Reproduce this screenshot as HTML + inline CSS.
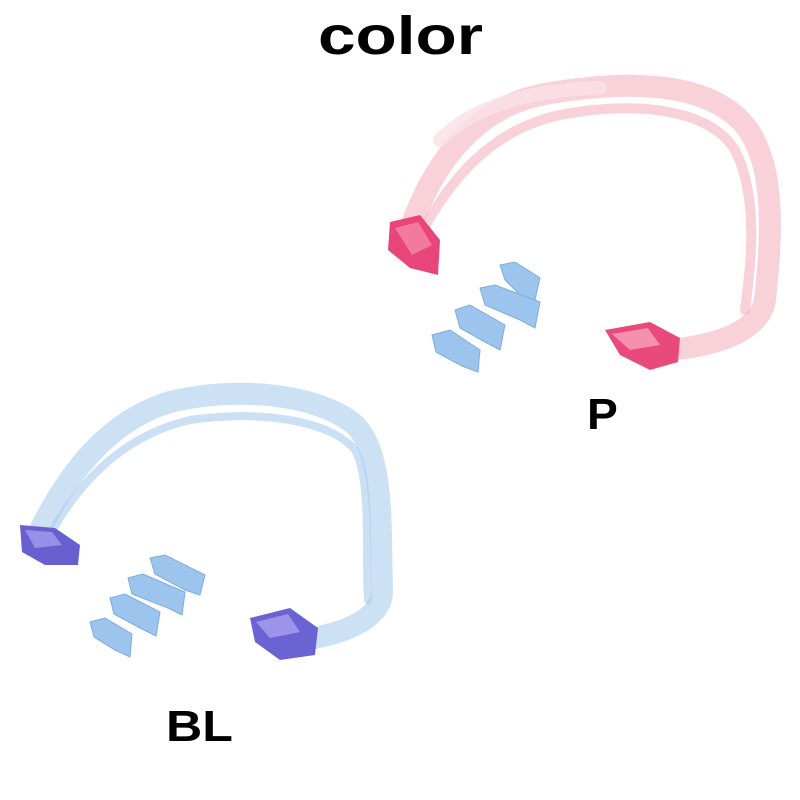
<!DOCTYPE html>
<html><head><meta charset="utf-8"><style>
html,body{margin:0;padding:0;background:#fff;}
#c{position:relative;width:800px;height:800px;overflow:hidden;}
.t{position:absolute;font-family:"Liberation Sans",Arial,sans-serif;font-weight:bold;color:#000;line-height:1;transform-origin:0 0;}
</style></head><body><div id="c">
<svg width="800" height="800" style="position:absolute;left:0;top:0">
<g fill="none" stroke-linecap="round">
<path d="M410,230 C430,170 470,110 540,95 C620,80 700,80 740,120 C780,160 770,250 765,300 C760,330 720,345 670,350" stroke="#f7c6cf" stroke-width="22" opacity="0.8"/>
<path d="M420,235 C450,180 490,130 560,115 C640,100 710,110 735,150 C760,200 750,270 745,310" stroke="#f3b3c0" stroke-width="10" opacity="0.6"/>
<path d="M440,140 C470,110 520,90 600,88" stroke="#fbe0e6" stroke-width="14" opacity="0.8"/>
</g>
<path d="M390,222 L420,215 L440,240 L438,275 L410,268 L388,250 Z" fill="#e8457a"/>
<path d="M395,228 L418,222 L432,245 L412,255 Z" fill="#f27aa0"/>
<path d="M605,330 L650,322 L680,338 L678,362 L650,370 L620,355 Z" fill="#e84a7c"/>
<path d="M612,334 L648,328 L660,345 L630,350 Z" fill="#f58fb0"/>
<g fill="none" stroke-linecap="round">
<path d="M40,530 C70,470 110,420 170,402 C240,385 320,395 355,425 C385,455 380,530 382,590 C383,620 340,635 300,640" stroke="#c4dcf2" stroke-width="22" opacity="0.85"/>
<path d="M50,535 C80,480 125,435 190,420 C260,410 330,420 355,450 C372,480 365,560 368,600" stroke="#a9cbed" stroke-width="8" opacity="0.6"/>
</g>
<path d="M20,525 L55,528 L80,545 L78,565 L45,565 L22,552 Z" fill="#6a5fd0"/>
<path d="M25,530 L52,532 L62,545 L35,548 Z" fill="#9890e6"/>
<path d="M250,618 L290,608 L318,628 L315,655 L280,660 L255,642 Z" fill="#6b62d4"/>
<path d="M256,622 L288,614 L300,632 L270,638 Z" fill="#9d94ea"/>
<g fill="#9cc4ec" stroke="#7aaee0" stroke-width="1">
<path d="M500,265 L515,262 L540,278 L535,300 L520,295 L505,280 Z"/>
<path d="M480,288 L495,285 L540,302 L535,328 L520,320 L485,305 Z"/>
<path d="M455,310 L470,305 L505,325 L500,350 L485,342 L460,328 Z"/>
<path d="M432,335 L450,330 L480,350 L478,372 L462,366 L436,352 Z"/>
<path d="M150,558 L165,555 L205,575 L200,595 L185,590 L155,574 Z"/>
<path d="M128,578 L143,574 L185,592 L182,615 L168,608 L132,594 Z"/>
<path d="M110,598 L125,594 L160,612 L156,636 L140,628 L114,614 Z"/>
<path d="M90,622 L105,618 L132,634 L130,657 L115,650 L94,637 Z"/>
</g>
</svg>
<div class="t" style="left:318px;top:9px;font-size:54px;transform:scaleX(1.25);">color</div>
<div class="t" style="left:587px;top:393px;font-size:44px;transform:scaleX(1.05);">P</div>
<div class="t" style="left:166px;top:705px;font-size:44px;transform:scaleX(1.14);">BL</div>
</div></body></html>
